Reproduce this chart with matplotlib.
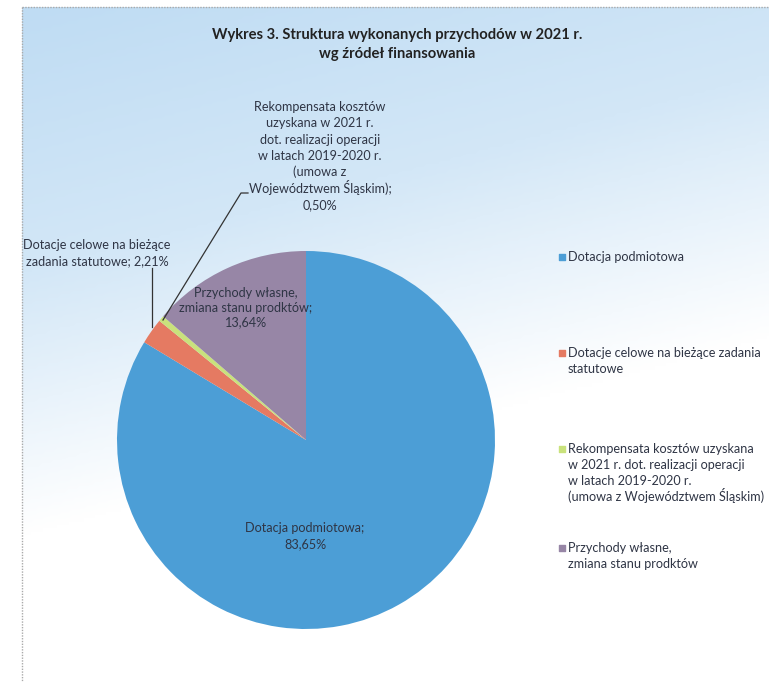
import numpy as np
import matplotlib
matplotlib.use("Agg")
import matplotlib.pyplot as plt
from matplotlib.colors import LinearSegmentedColormap

categories = [
    "Dotacja podmiotowa",
    "Dotacje celowe na bieżące zadania\nstatutowe",
    "Rekompensata kosztów uzyskana\nw 2021 r. dot. realizacji operacji\nw latach 2019-2020 r.\n(umowa z Województwem Śląskim)",
    "Przychody własne,\nzmiana stanu prodktów",
]
values = [83.65, 2.21, 0.50, 13.64]
value_labels = ["83,65%", "2,21%", "0,50%", "13,64%"]
colors = ["#4c9ed6", "#e57a62", "#c9e27c", "#9786a6"]
title = "Wykres 3. Struktura wykonanych przychodów w 2021 r.\nwg źródeł finansowania"

W, H = 769, 682
plt.rcParams['font.family'] = ['Lato', 'DejaVu Sans']
fig = plt.figure(figsize=(W / 100, H / 100), dpi=100)
ax = fig.add_axes([0, 0, 1, 1])

def Y(y):
    return H - y

# background gradient (light blue to white)
gx, gy = np.meshgrid(np.linspace(0, 1, 200), np.linspace(0, 1, 200))
t = np.clip(0.85 * gy + 0.25 * gx, 0, 1)
cmap = LinearSegmentedColormap.from_list("bg", ["#bfdcf3", "#d3e7f7", "#ffffff", "#ffffff"], N=256)
ax.imshow(cmap(t), extent=(22, W, Y(H), Y(7)), origin='upper', aspect='auto', zorder=0,
          interpolation='bilinear')
ax.plot([22, W], [Y(7), Y(7)], color="#aaaaaa", lw=1, ls=(0, (1, 1)), zorder=1)
ax.plot([22, 22], [Y(7), Y(H)], color="#aaaaaa", lw=1, ls=(0, (1, 1)), zorder=1)

cx, cy, r = 306, Y(440), 189
wedges, _ = ax.pie(values, colors=colors, startangle=90, counterclock=False,
                   center=(cx, cy), radius=r, frame=True,
                   wedgeprops=dict(linewidth=0), normalize=True)
ax.set_xlim(0, W)
ax.set_ylim(0, H)
ax.set_aspect('equal')
ax.axis('off')
for w in wedges:
    w.set_zorder(2)

tc = "#2f3545"
fs = 9.1

def draw_lines(x, y0, text, pitch, ha='center', fontsize=fs, **kw):
    off = fontsize * 100 / 72 * 0.33
    for k, line in enumerate(text.split("\n")):
        ax.text(x, Y(y0 + k * pitch + off), line, ha=ha, va='baseline', zorder=5,
                fontsize=fontsize, **kw)

draw_lines(397, 34, title, 19, fontsize=10.6, fontweight='bold', color="#222222")

draw_lines(305, 528, "Dotacja podmiotowa;\n" + value_labels[0], 15.5, color=tc)
draw_lines(246, 293, "Przychody własne,\nzmiana stanu prodktów;\n" + value_labels[3], 14.5,
           color=tc)
draw_lines(97, 245, "Dotacje celowe na bieżące\nzadania statutowe; " + value_labels[1], 15.5,
           color=tc)
draw_lines(320, 107, "Rekompensata kosztów\nuzyskana w 2021 r.\ndot. realizacji operacji\nw latach 2019-2020 r.\n(umowa z\nWojewództwem Śląskim);\n" + value_labels[2],
           16.3, color=tc)
# leader lines
ax.plot([152, 152], [Y(268), Y(327)], color="#333333", lw=0.9, zorder=4)
ax.plot([248, 241, 163], [Y(193), Y(193), Y(320)], color="#333333", lw=0.9, zorder=4)

# legend
leg_y = [257, 353, 449, 548]
for i, (lab, c) in enumerate(zip(categories, colors)):
    ax.scatter([562], [Y(leg_y[i])], marker='s', s=22, color=c, zorder=5)
    draw_lines(568, leg_y[i], lab, 16, ha='left', color=tc)

fig.savefig("out.png", dpi=100)
